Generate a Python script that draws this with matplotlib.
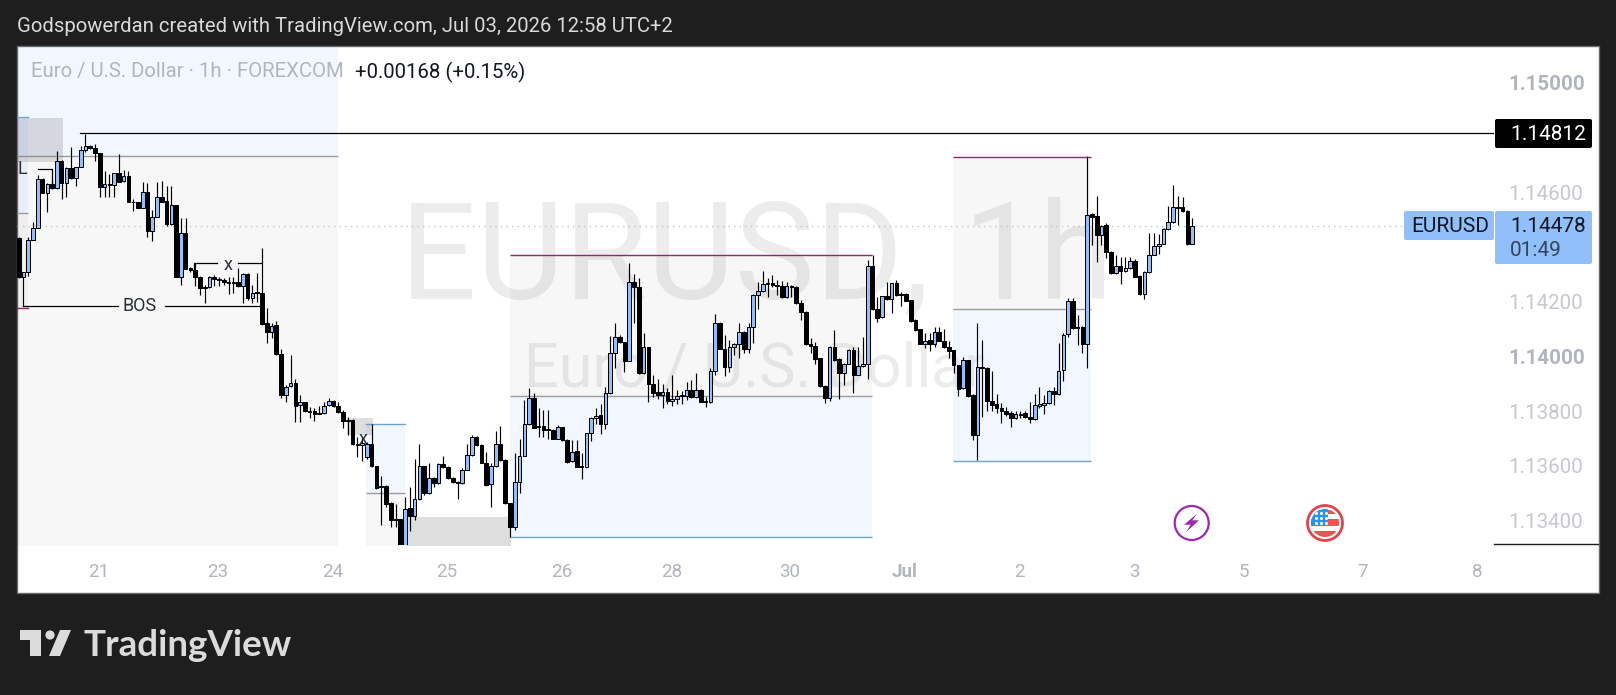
import numpy as np
import matplotlib
matplotlib.use("Agg")
import matplotlib.pyplot as plt
from matplotlib.patches import Rectangle, Circle, Polygon, FancyBboxPatch

plt.rcParams['font.family'] = ['Roboto', 'DejaVu Sans']

# hourly EURUSD candles, in 1/100000 of a dollar
opens = [
    114431,114289,114310,114425,114468,114647,114598,114629,114614,114714,
    114632,114687,114651,114691,114753,114768,114760,114742,114620,114625,
    114625,114669,114640,114659,114565,114563,114544,114602,114460,114511,
    114581,114567,114484,114553,114289,114450,114323,114316,114291,114255,
    114252,114289,114284,114279,114272,114270,114271,114259,114300,114212,
    114234,114233,114121,114088,114115,114008,113861,113892,113902,113821,
    113832,113801,113799,113791,113792,113821,113839,113819,113797,113769,
    113767,113680,113675,113634,113682,113600,113522,113528,113466,113405,
    113405,113281,113445,113418,113480,113600,113500,113555,113536,113606,
    113597,113555,113542,113536,113587,113640,113704,113675,113612,113533,
    113600,113679,113621,113463,113378,113540,113638,113752,113847,113747,
    113746,113735,113733,113700,113741,113694,113619,113654,113598,113595,
    113719,113774,113786,113755,113867,114013,114072,114051,113985,114273,
    114252,113940,114033,113901,113869,113861,113871,113838,113845,113856,
    113856,113878,113853,113878,113836,113832,113948,114124,114029,113962,
    114035,114046,114090,114029,114106,114224,114240,114263,114270,114262,
    114258,114218,114259,114255,114194,114163,114044,114039,113993,113893,
    113850,114033,113989,113940,113974,114022,113934,113964,113971,114332,
    114172,114143,114219,114209,114267,114228,114228,114205,114133,114099,
    114047,114059,114045,114088,114058,114034,114022,113968,113884,113986,
    113859,113713,113962,113958,113839,113825,113813,113801,113792,113774,
    113790,113792,113778,113771,113820,113822,113829,113872,113862,113950,
    114081,114204,114108,114108,114045,114521,114512,114442,114479,114381,
    114306,114332,114312,114322,114348,114294,114227,114308,114372,114403,
    114412,114465,114490,114547,114547,114531,114412]
highs = [
    114438,114310,114438,114492,114663,114651,114633,114645,114751,114718,
    114693,114764,114693,114769,114813,114772,114776,114742,114677,114665,
    114669,114740,114681,114677,114574,114563,114636,114635,114535,114636,
    114641,114624,114623,114553,114505,114505,114325,114340,114294,114261,
    114294,114298,114289,114285,114289,114289,114322,114304,114304,114261,
    114304,114395,114176,114121,114129,114029,113895,114005,113916,113859,
    113835,113816,113810,113819,113835,113847,113842,113835,113804,113777,
    113773,113704,113707,113688,113753,113600,113563,113531,113469,113461,
    113408,113488,113524,113624,113682,113601,113612,113558,113612,113636,
    113600,113558,113545,113591,113680,113713,113709,113680,113652,113609,
    113729,113746,113624,113466,113646,113700,113840,113883,113867,113810,
    113804,113804,113735,113749,113744,113697,113694,113694,113646,113722,
    113780,113810,113828,113889,114076,114123,114078,114054,114343,114303,
    114285,114084,114036,113932,113916,113899,113883,113932,113877,113873,
    113907,113914,113938,113881,113853,113957,114155,114127,114078,114060,
    114050,114121,114093,114121,114227,114273,114312,114285,114297,114279,
    114275,114273,114260,114257,114208,114166,114066,114054,113996,113896,
    114038,114096,113993,113977,114026,114035,114035,114072,114352,114370,
    114218,114222,114273,114270,114280,114237,114233,114207,114135,114101,
    114087,114087,114109,114109,114101,114055,114025,113970,113999,113988,
    113862,114124,114060,113960,113948,113863,113829,113817,113799,113799,
    113799,113799,113835,113863,113887,113859,113876,113887,114048,114085,
    114214,114214,114152,114112,114733,114524,114586,114481,114487,114384,
    114371,114365,114362,114365,114355,114296,114311,114450,114452,114446,
    114468,114551,114627,114586,114582,114534,114505]
lows = [
    114285,114186,114294,114425,114468,114596,114529,114612,114612,114574,
    114584,114647,114624,114691,114746,114758,114715,114581,114581,114584,
    114581,114638,114638,114563,114533,114544,114541,114438,114423,114511,
    114563,114477,114479,114289,114261,114318,114310,114257,114224,114196,
    114249,114257,114259,114261,114228,114231,114255,114194,114206,114194,
    114200,114115,114050,114066,114006,113849,113832,113887,113762,113762,
    113796,113774,113765,113788,113789,113819,113816,113792,113737,113713,
    113676,113634,113619,113624,113597,113517,113384,113451,113378,113378,
    113270,113270,113363,113402,113477,113494,113497,113522,113533,113591,
    113552,113539,113481,113533,113584,113637,113673,113609,113526,113451,
    113595,113618,113460,113339,113366,113500,113635,113749,113737,113707,
    113707,113700,113697,113697,113691,113609,113615,113595,113551,113591,
    113692,113755,113716,113735,113864,113956,114048,113944,113982,114121,
    113937,113937,113834,113853,113843,113813,113828,113820,113828,113828,
    113840,113850,113850,113832,113816,113829,113934,114026,113929,113942,
    114005,113996,114011,114011,114048,114172,114237,114218,114255,114224,
    114215,114215,114218,114191,114133,114041,114011,113972,113889,113831,
    113838,113984,113843,113895,113971,113867,113931,113961,113916,114169,
    114127,114140,114206,114160,114222,114185,114201,114127,114094,114044,
    114030,114021,114036,114055,114031,113993,113939,113856,113880,113853,
    113695,113622,113780,113799,113799,113792,113756,113783,113744,113771,
    113774,113774,113756,113768,113811,113790,113826,113823,113859,113912,
    114072,114102,114042,114012,113959,114407,114344,114407,114359,114303,
    114303,114265,114307,114319,114289,114224,114211,114306,114369,114375,
    114409,114462,114487,114480,114527,114407,114410]
closes = [
    114289,114310,114425,114468,114647,114598,114629,114614,114714,114632,
    114687,114651,114691,114754,114768,114760,114742,114620,114629,114631,
    114669,114638,114659,114565,114563,114544,114602,114460,114511,114581,
    114565,114484,114553,114289,114450,114321,114316,114291,114249,114249,
    114289,114284,114279,114271,114270,114272,114259,114300,114212,114233,
    114232,114119,114088,114112,114008,113861,113889,113902,113820,113832,
    113799,113798,113788,113793,113820,113839,113819,113797,113766,113766,
    113679,113678,113685,113682,113600,113520,113528,113462,113402,113401,
    113281,113444,113418,113480,113600,113500,113555,113536,113606,113595,
    113555,113542,113536,113587,113640,113704,113675,113612,113530,113600,
    113679,113621,113463,113378,113540,113638,113752,113847,113739,113743,
    113733,113732,113700,113741,113694,113615,113652,113597,113595,113719,
    113774,113783,113755,113867,114013,114072,114051,113985,114273,114252,
    113940,114033,113901,113867,113861,113871,113838,113845,113856,113859,
    113878,113853,113878,113834,113832,113948,114124,114029,113962,114035,
    114046,114090,114029,114106,114224,114240,114263,114270,114261,114258,
    114218,114258,114255,114194,114163,114044,114039,113989,113893,113850,
    114033,113987,113940,113974,114022,113934,113964,113971,114332,114172,
    114142,114219,114209,114267,114225,114225,114204,114130,114097,114047,
    114058,114045,114088,114058,114034,114021,113967,113881,113986,113856,
    113713,113961,113958,113839,113823,113813,113799,113790,113774,113789,
    113786,113777,113771,113822,113825,113829,113872,113862,113948,114080,
    114204,114105,114103,114045,114518,114511,114442,114478,114381,114306,
    114332,114312,114322,114348,114292,114227,114308,114372,114403,114412,
    114465,114490,114545,114544,114530,114412,114478]

# axis labels
price_ticks = [1.15, 1.146, 1.142, 1.14, 1.138, 1.136, 1.134]
day_ticks = [16.7, 41.8, 65.9, 89.8, 113.9, 136.8, 161.7, 185.8, 209.7, 233.8, 256.9, 281.8, 305.7]
day_labels = ['21', '23', '24', '25', '26', '28', '30', 'Jul', '2', '3', '5', '7', '8']

last_price = 1.14478
high_line = 1.14815

# drawn ranges on the chart: bar from, bar to, top, middle, bottom price
blue_top_ranges = [
    (-1, 66.9, 1.15200, 1.14731, 1.13200),
    (-1, 1.9, 1.14875, 1.14525, 1.14177),
    (72.8, 81.0, 1.13753, 1.13501, 1.13200),
]
grey_top_ranges = [
    (102.9, 178.9, 1.14371, 1.13856, 1.13339),
    (195.9, 224.8, 1.14729, 1.14173, 1.13618),
]
# grey boxes: bar from, bar to, top, bottom price
boxes = [
    (-1, 9.3, 1.14871, 1.14711),
    (68.8, 74.3, 1.13775, 1.13713),
    (81.2, 103.2, 1.13414, 1.13200),
]

W, H = 1616, 695
X0, DX = 18.7, 4.77  # pixel of bar 0 and pixels per bar
DARK = '#1e1e1e'
UP = '#90bff9'
TICK = '#b2b5be'
BLUE_FILL = dict(color='#2979ff', alpha=0.06, lw=0, zorder=1)
GREY_FILL = dict(color='black', alpha=0.03, lw=0, zorder=1)

fig = plt.figure(figsize=(W / 100, H / 100), dpi=100, facecolor=DARK)

# background layer, in pixels
bg = fig.add_axes([0, 0, 1, 1], zorder=0)
bg.set_xlim(0, W)
bg.set_ylim(H, 0)
bg.axis('off')
bg.add_patch(Rectangle((17, 45.5), 1582, 547, fc='white', ec='#6a6a6a', lw=1))
bg.text(756, 261, 'EURUSD, 1h', fontsize=97, color='#ececed', ha='center', va='center')
bg.text(755, 370, 'Euro / U.S. Dollar', fontsize=44, color='#ececed', ha='center', va='center')
bg.text(17, 26, 'Godspowerdan created with TradingView.com, Jul 03, 2026 12:58 UTC+2',
        fontsize=14.6, color='#dadada', ha='left', va='center')

# logo and wordmark
bg.add_patch(Polygon([(20, 630), (41, 630), (41, 656), (30, 656), (30, 640), (20, 640)], fc='#dbdbdb'))
bg.add_patch(Circle((50, 635), 4.6, fc='#dbdbdb'))
bg.add_patch(Polygon([(60, 630), (71, 630), (60, 656), (49, 656)], fc='#dbdbdb'))
bg.text(83, 656, 'TradingView', fontsize=26.5, color='#dbdbdb', fontweight='bold',
        family=['Lato', 'DejaVu Sans'], ha='left', va='baseline')

# the chart pane
ax = fig.add_axes([17 / W, (H - 545) / H, (1494 - 17) / W, (545 - 46) / H], zorder=1)
ax.patch.set_alpha(0)
for s in ax.spines.values():
    s.set_visible(False)
ax.set_xlim((17 - X0) / DX, (1494 - X0) / DX)
ax.set_ylim(1.15 - (545 - 82.7) / 27375, 1.15 + (82.7 - 46) / 27375)

for x0, x1, top, mid, bot in blue_top_ranges:
    ax.fill_between([x0, x1], mid, top, **BLUE_FILL)
    ax.fill_between([x0, x1], bot, mid, **GREY_FILL)
    ax.plot([x0, x1], [mid, mid], color='#9b9b9b', lw=1, zorder=2, solid_capstyle='butt')
for x0, x1, top, mid, bot in grey_top_ranges:
    ax.fill_between([x0, x1], mid, top, **GREY_FILL)
    ax.fill_between([x0, x1], bot, mid, **BLUE_FILL)
    ax.plot([x0, x1], [mid, mid], color='#9b9b9b', lw=1, zorder=2, solid_capstyle='butt')
    ax.plot([x0, x1], [top, top], color='#8e2a68', lw=1, zorder=2, solid_capstyle='butt')
    ax.plot([x0, x1], [bot, bot], color='#6fa3c6', lw=1, zorder=2, solid_capstyle='butt')
ax.plot([72.8, 81.0], [1.13753, 1.13753], color='#6fa3d0', lw=1, zorder=2)
ax.plot([-1, 1.9], [1.14875, 1.14875], color='#6fa3d0', lw=1, zorder=2)
ax.plot([-1, 1.9], [1.14177, 1.14177], color='#8e2a68', lw=1, zorder=2)
for x0, x1, top, bot in boxes:
    ax.fill_between([x0, x1], bot, top, color='#787878', alpha=0.24, lw=0, zorder=2)

ax.axhline(last_price, xmax=(1404 - 17) / (1494 - 17), color='#b4c8d0', lw=1,
           ls=(0, (1, 3)), zorder=2)
ax.plot([12.9, 320], [high_line, high_line], color='black', lw=0.9, zorder=3)

# candles
o = np.array(opens) / 1e5
h = np.array(highs) / 1e5
l = np.array(lows) / 1e5
c = np.array(closes) / 1e5
bars = np.arange(len(o))
is_up = c >= o
ax.vlines(bars, l, h, color='black', lw=0.85, zorder=4)
ax.bar(bars, np.abs(c - o), bottom=np.minimum(o, c), width=0.76,
       color=[UP if u else 'black' for u in is_up], edgecolor='black', linewidth=0.72, zorder=5)

# structure labels
ax.plot([0.9, 20.8], [1.14185, 1.14185], color='black', lw=0.9, zorder=6)
ax.plot([30.6, 50.6], [1.14185, 1.14185], color='black', lw=0.9, zorder=6)
ax.text(25.4, 1.14185, 'BOS', fontsize=13, color='#2a2e39', ha='center', va='center', zorder=6)
ax.plot([36.7, 36.7, 41.6], [1.14300, 1.14341, 1.14341], color='black', lw=0.9, zorder=6)
ax.plot([45.9, 50.8], [1.14341, 1.14341], color='black', lw=0.9, zorder=6)
ax.text(43.8, 1.14335, 'x', fontsize=13, color='#2a2e39', ha='center', va='center', zorder=6)
ax.plot([4.05, 7, 7], [1.14684, 1.14684, 1.14626], color='black', lw=0.9, zorder=6)
ax.text(0.7, 1.14684, 'L', fontsize=13, color='#2a2e39', ha='center', va='center', zorder=6)
ax.text(72.2, 1.13698, 'x', fontsize=13, color='#2a2e39', ha='center', va='center', zorder=6)

# axes
ax.yaxis.tick_right()
ax.set_yticks(price_ticks)
ax.set_yticklabels(['%.5f' % p for p in price_ticks], fontsize=14.8, color='#c6c8ce')
ax.tick_params(axis='y', length=0, pad=10.6)
for lab, p in zip(ax.get_yticklabels(), price_ticks):
    if p in (1.15, 1.14):
        lab.set_fontweight('bold')
        lab.set_color(TICK)
ax.set_xticks(day_ticks)
ax.set_xticklabels(day_labels, fontsize=13.5, color=TICK)
ax.tick_params(axis='x', length=0, pad=13)
ax.get_xticklabels()[7].set_fontweight('bold')

# tags and event icons on top
ui = fig.add_axes([0, 0, 1, 1], zorder=2)
ui.patch.set_alpha(0)
ui.set_xlim(0, W)
ui.set_ylim(H, 0)
ui.axis('off')
ui.text(31, 72, 'Euro / U.S. Dollar · 1h · FOREXCOM', fontsize=14.7, color=TICK, ha='left', va='center')
ui.text(355, 72, '+0.00168 (+0.15%)', fontsize=14.7, color='#131722', ha='left', va='center')

ui.plot([1494, 1598], [544, 544], color='#1e1e1e', lw=1)
ui.add_patch(FancyBboxPatch((1497, 121), 93, 25, boxstyle='round,pad=2,rounding_size=2', fc='black', ec='none'))
ui.text(1510, 134, '1.14812', fontsize=15, color='white', ha='left', va='center')
ui.add_patch(FancyBboxPatch((1406, 213), 86, 25, boxstyle='round,pad=2,rounding_size=2', fc=UP, ec='none'))
ui.text(1411, 226, 'EURUSD', fontsize=15, color='#131722', ha='left', va='center')
ui.add_patch(FancyBboxPatch((1497, 213), 93, 49, boxstyle='round,pad=2,rounding_size=2', fc=UP, ec='none'))
ui.text(1510, 226, '1.14478', fontsize=15, color='#131722', ha='left', va='center')
ui.text(1510, 250, '01:49', fontsize=15, color='#33465e', ha='left', va='center')

# lightning event
ui.add_patch(Circle((1191.7, 523), 17, fc='white', ec='#9c27b0', lw=1.6))
bolt = [(5, -9), (-7.7, 1.7), (-1, 1.7), (-5.7, 9.3), (7.3, -2.7), (0.7, -2.7)]
ui.add_patch(Polygon([(1191.7 + a, 523 + b) for a, b in bolt], fc='#9c27b0', ec='none'))

# US flag event
ring = Circle((1325, 523), 17.5, fc='white', ec='#e2444c', lw=2)
ui.add_patch(ring)
clip = Circle((1325, 523), 14, transform=ui.transData)
for rect in [Rectangle((1311, 510), 28, 3.5, fc='#ef5350'),
             Rectangle((1311, 519), 28, 7, fc='#ef5350'),
             Rectangle((1311, 531), 28, 6, fc='#ef5350'),
             Rectangle((1311, 509), 17, 17, fc='#2196f3')]:
    rect.set_linewidth(0)
    ui.add_patch(rect)
    rect.set_clip_path(clip)
dots = ui.scatter([1316, 1321, 1326] * 3, [513] * 3 + [518] * 3 + [523] * 3, s=5, c='white', lw=0)
dots.set_clip_path(clip)

fig.savefig('out.png', dpi=100, facecolor=DARK)
